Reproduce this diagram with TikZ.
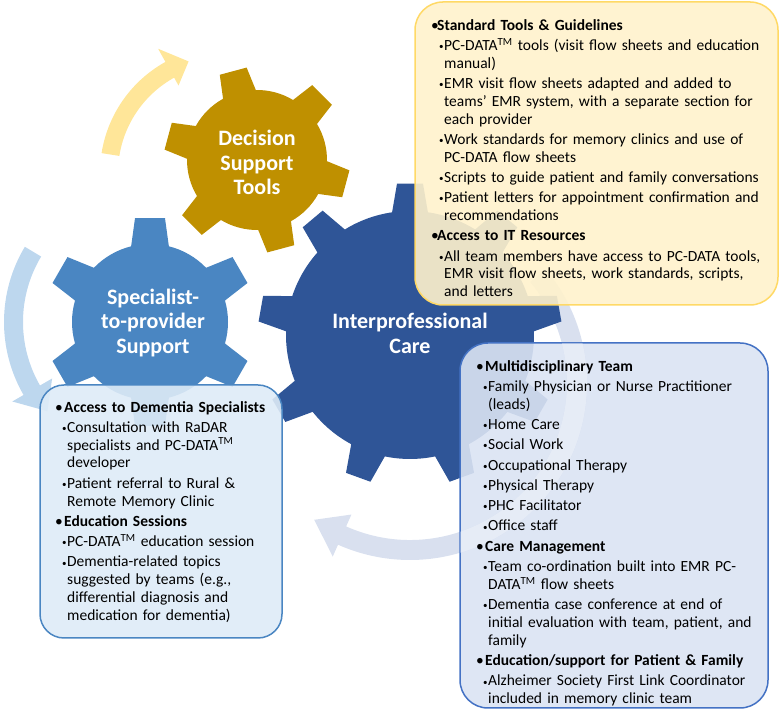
\documentclass[tikz,border=0pt]{standalone}
\usepackage{fontspec}
\setmainfont{Carlito}
\definecolor{dkgear}{HTML}{2F5597}
\definecolor{mdgear}{HTML}{4A86C2}
\definecolor{gdgear}{HTML}{BF9000}
\definecolor{yarc}{HTML}{FFE699}
\definecolor{barc}{HTML}{BDD7EE}
\definecolor{garc}{HTML}{D9E0EF}
\definecolor{yfill}{HTML}{FFF2CC}
\definecolor{yline}{HTML}{FFD966}
\definecolor{lfill}{HTML}{DEEBF7}
\definecolor{rfill}{HTML}{DAE3F3}
\definecolor{rline}{HTML}{4472C4}

\tikzset{
  gearlabel/.style={text=white, font=\bfseries\fontsize{22}{24.5}\selectfont, align=center, inner sep=0pt},
  boxtext/.style={anchor=north west, inner sep=0pt, align=left,
    font=\fontsize{15.5}{17.8}\selectfont\setlength{\parskip}{2.5pt}},
  infobox/.style={line width=1.5pt, rounded corners=28pt, fill opacity=0.9}
}

% style, center, teeth, body radius, tip radius, first tooth, half angle tip, half angle base
\newcommand{\gear}[8]{%
  \fill[#1, shift={#2}] (#6-#8:#4)
    \foreach \k [evaluate=\k as \a using #6+(\k-1)*360/#3] in {1,...,#3}{
      -- (\a-#7:#5) -- (\a+#7:#5) -- (\a+#8:#4)
      arc[start angle=\a+#8, end angle=\a+360/#3-#8, radius=#4pt]
    } -- cycle;
}
\newcommand{\hd}[2][6pt]{\par\noindent\strut\makebox[#1][l]{•}\textbf{#2}}
\newcommand{\itm}[2][8pt]{\par\hangindent=\dimexpr#1+5pt\relax\hangafter=1\noindent\strut\hspace*{#1}\makebox[5pt][l]{\raisebox{0.8pt}{\small•}}#2}

\begin{document}
\begin{tikzpicture}[x=1pt, y=1pt]
\useasboundingbox (0,0) rectangle (780,711);

% circular arrows
\fill[yarc, shift={(227,538)}] (171:127) arc[start angle=171, end angle=119, radius=127pt]
  -- (119:142) -- (109:118) -- (119:100) -- (119:109)
  arc[start angle=119, end angle=171, radius=109pt] -- cycle;
\fill[barc, shift={(150,389)}] (149:146) arc[start angle=149, end angle=210, radius=146pt]
  -- (210:159) -- (221:136) -- (210:113) -- (210:127)
  arc[start angle=210, end angle=149, radius=127pt] -- cycle;
\fill[garc, shift={(410,328)}, save path=\bigarc] (40:177) arc[start angle=40, end angle=-114, radius=177pt]
  -- (-114:190) -- (-125:167) -- (-114:144) -- (-114:157)
  arc[start angle=-114, end angle=40, radius=157pt] -- cycle;

% gears
\gear{dkgear}{(410,376)}{9}{124}{152}{10}{4.9}{8.3}
\gear{mdgear}{(150,389)}{6}{78}{105}{90}{8.2}{14}
\gear{gdgear}{(257,551)}{6}{70}{93}{45}{8.6}{14}

\node[gearlabel] (dst) at (257,548.5) {Decision\\Support\\Tools};
\node[gearlabel] (spt) at (153,388) {Specialist-\\to-provider\\Support};
\node[gearlabel] (ipc) at (410,377.5) {Interprofessional\\Care};

% boxes
\draw[infobox, fill=yfill, draw=yline] (415,406) rectangle (778,709);
\draw[infobox, fill=lfill, draw=mdgear, rounded corners=24pt] (40,73) rectangle (282,326);
\draw[infobox, fill=rfill, draw=rline] (460,3) rectangle (768,368);
\begin{scope}
  \clip[rounded corners=28pt] (460,3) rectangle (768,368);
  \fill[white, fill opacity=0.35, use path=\bigarc];
\end{scope}

\node[boxtext, text width=345pt] (dsttxt) at (431,701.4) {%
  \hd{Standard Tools \& Guidelines}
  \itm{PC-DATA\textsuperscript{TM} tools (visit flow sheets and education\newline manual)}
  \itm{EMR visit flow sheets adapted and added to\newline teams’ EMR system, with a separate section for\newline each provider}
  \itm{Work standards for memory clinics and use of\newline PC-DATA flow sheets}
  \itm{Scripts to guide patient and family conversations}
  \itm{Patient letters for appointment confirmation and\newline recommendations}
  \hd{Access to IT Resources}
  \itm{All team members have access to PC-DATA tools,\newline EMR visit flow sheets, work standards, scripts,\newline and letters}\par};

\node[boxtext, text width=225pt] (spttxt) at (55,319.4) {%
  \hd[9pt]{Access to Dementia Specialists}
  \itm[7pt]{Consultation with RaDAR\newline specialists and PC-DATA\textsuperscript{TM}\newline developer}
  \itm[7pt]{Patient referral to Rural \&\newline Remote Memory Clinic}
  \hd[9pt]{Education Sessions}
  \itm[7pt]{PC-DATA\textsuperscript{TM} education session}
  \itm[7pt]{Dementia-related topics\newline suggested by teams (e.g.,\newline differential diagnosis and\newline medication for dementia)}\par};

\node[boxtext, text width=290pt] (ipctxt) at (476,360.4) {%
  \hd[9pt]{Multidisciplinary Team}
  \itm[7pt]{Family Physician or Nurse Practitioner\newline (leads)}
  \itm[7pt]{Home Care}
  \itm[7pt]{Social Work}
  \itm[7pt]{Occupational Therapy}
  \itm[7pt]{Physical Therapy}
  \itm[7pt]{PHC Facilitator}
  \itm[7pt]{Office staff}
  \hd[9pt]{Care Management}
  \itm[7pt]{Team co-ordination built into EMR PC-\newline DATA\textsuperscript{TM} flow sheets}
  \itm[7pt]{Dementia case conference at end of\newline initial evaluation with team, patient, and\newline family}
  \hd[9pt]{Education/support for Patient \& Family}
  \itm[7pt]{Alzheimer Society First Link Coordinator\newline included in memory clinic team}\par};
\end{tikzpicture}
\end{document}
